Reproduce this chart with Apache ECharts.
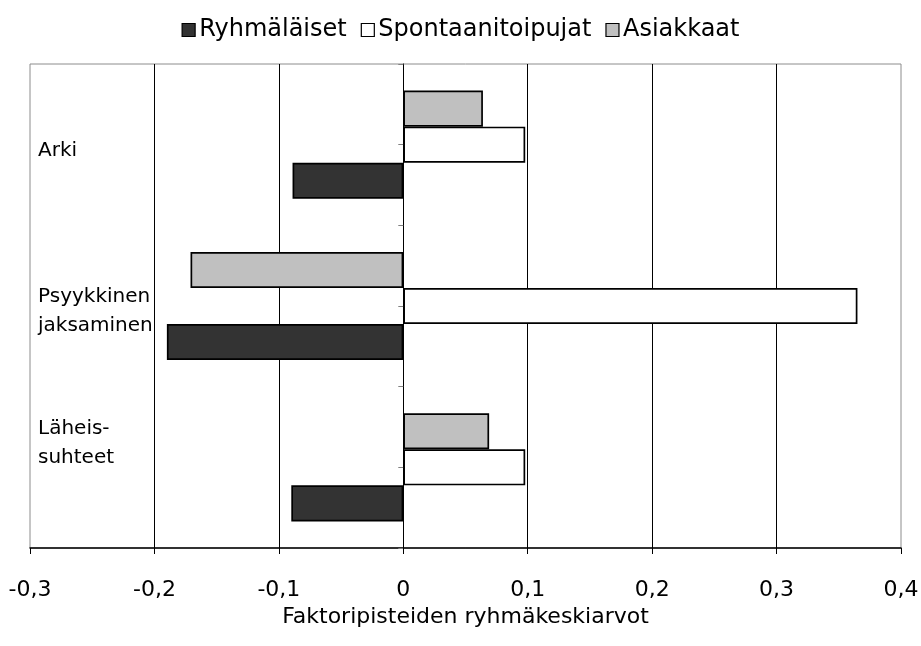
<!DOCTYPE html>
<html>
<head>
<meta charset="utf-8">
<script src="https://cdn.jsdelivr.net/npm/echarts@6/dist/echarts.min.js"></script>
<style>
  html, body { margin: 0; padding: 0; background: #fff; }
  #chart { width: 921px; height: 646px; }
</style>
</head>
<body>
<div id="chart"></div>
<script>
// Categories listed bottom-to-top along the category axis
const categories = ['Läheis-\nsuhteet', 'Psyykkinen\njaksaminen', 'Arki'];
const ryhmalaiset = [-0.090, -0.190, -0.089];
const spontaanitoipujat = [0.098, 0.365, 0.098];
const asiakkaat = [0.069, -0.171, 0.064];
const seriesNames = ['Ryhmäläiset', 'Spontaanitoipujat', 'Asiakkaat'];
const xTicks = [-0.3, -0.2, -0.1, 0, 0.1, 0.2, 0.3, 0.4];

const FONT = 'DejaVu Sans, sans-serif';
const fmt = v => String(Math.round(v * 10) / 10).replace('.', ',');

// spacer heights that nudge each caption block up or down
const spacerAbove = [0, 11, 13];
const spacerBelow = [48, 0, 0];

const chart = echarts.init(document.getElementById('chart'), null, { renderer: 'canvas' });

const barStyle = (color) => ({ color: color, borderColor: '#000', borderWidth: 1.7 });

function captionRich() {
  const rich = { t: { fontSize: 20, lineHeight: 29, color: '#000', fontFamily: FONT } };
  spacerAbove.forEach((h, i) => { rich['a' + i] = { fontSize: 1, lineHeight: Math.max(h, 1) }; });
  spacerBelow.forEach((h, i) => { rich['b' + i] = { fontSize: 1, lineHeight: Math.max(h, 1) }; });
  return rich;
}

chart.setOption({
  backgroundColor: '#fff',
  animation: false,
  textStyle: { fontFamily: FONT },
  legend: {
    top: 13,
    left: 'center',
    itemWidth: 13,
    itemHeight: 13,
    itemGap: 14,
    icon: 'rect',
    itemStyle: { borderColor: '#000', borderWidth: 1.2 },
    textStyle: { fontSize: 24, color: '#000', fontFamily: FONT, padding: [0, 0, 0, -1] },
    data: seriesNames
  },
  grid: {
    left: 30, right: 20, top: 64, bottom: 98,
    show: true, borderColor: '#8c8c8c', borderWidth: 1,
    outerBoundsMode: 'none'
  },
  xAxis: {
    type: 'value',
    min: xTicks[0],
    max: xTicks[xTicks.length - 1],
    interval: 0.1,
    name: 'Faktoripisteiden ryhmäkeskiarvot',
    nameLocation: 'middle',
    nameGap: 44,
    nameTextStyle: { fontSize: 22, color: '#000', fontFamily: FONT },
    axisLine: { show: true, onZero: false, lineStyle: { color: '#000', width: 1.5 } },
    axisTick: { show: true, length: 6, lineStyle: { color: '#000' } },
    axisLabel: { fontSize: 22, color: '#000', margin: 31, fontFamily: FONT, formatter: fmt },
    splitLine: { show: true, showMinLine: false, showMaxLine: false, lineStyle: { color: '#000', width: 1 } }
  },
  yAxis: [
    {
      type: 'category',
      data: categories,
      axisLine: { show: false, onZero: false },
      axisTick: { show: false },
      splitLine: { show: false },
      axisLabel: {
        inside: true,
        margin: 8,
        align: 'left',
        formatter: (value, index) => {
          const lines = value.split('\n').map(s => '{t|' + s + '}');
          const top = spacerAbove[index] ? ['{a' + index + '| }'] : [];
          const bottom = spacerBelow[index] ? ['{b' + index + '| }'] : [];
          return top.concat(lines, bottom).join('\n');
        },
        rich: captionRich()
      }
    },
    {
      // zero line with half-category tick marks
      type: 'value',
      position: 'left',
      min: 0,
      max: 6,
      interval: 1,
      axisLine: { show: true, onZero: true, onZeroAxisIndex: 0, lineStyle: { color: '#000', width: 1 } },
      axisTick: { show: true, length: 5, lineStyle: { color: '#808080' } },
      axisLabel: { show: false },
      splitLine: { show: false }
    }
  ],
  series: [
    { name: seriesNames[2], type: 'bar', data: asiakkaat, itemStyle: barStyle('#c0c0c0'), barGap: '0%', barCategoryGap: '33%' },
    { name: seriesNames[1], type: 'bar', data: spontaanitoipujat, itemStyle: barStyle('#ffffff'), barGap: '0%', barCategoryGap: '33%' },
    { name: seriesNames[0], type: 'bar', data: ryhmalaiset, itemStyle: barStyle('#333333'), barGap: '0%', barCategoryGap: '33%' }
  ]
});
</script>
</body>
</html>
